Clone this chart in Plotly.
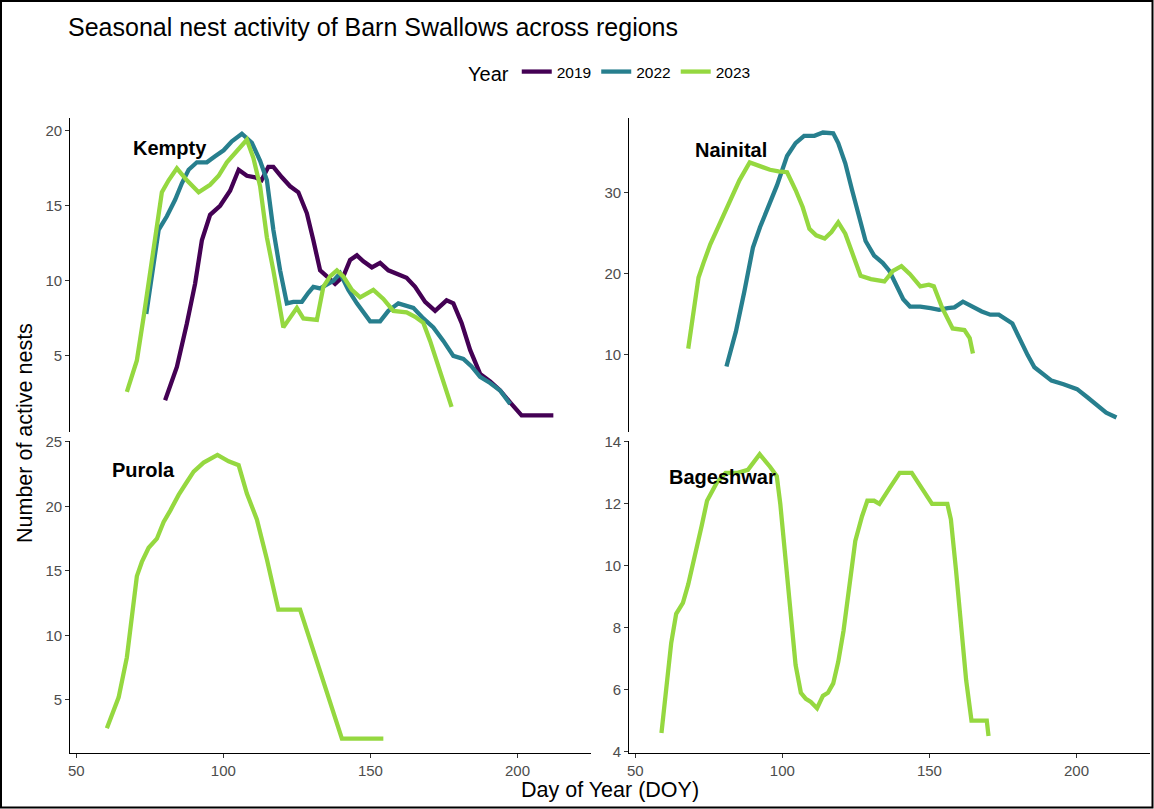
import plotly.graph_objects as go

# ---------------- data ----------------
years = ["2019", "2022", "2023"]
regions = ["Kempty", "Nainital", "Purola", "Bageshwar"]

kempty_2019_doy = [80.2, 84.2, 87.6, 90.4, 92.7, 95.5, 98.9, 102.3, 105.2, 108.0,
                   110.8, 113.0, 115.3, 117.0, 119.9, 122.7, 125.5, 128.4, 130.6, 132.9,
                   135.2, 138.0, 140.8, 143.1, 145.4, 147.6, 150.5, 153.3, 156.1, 158.9,
                   162.3, 165.2, 168.6, 172.0, 175.9, 178.2, 181.0, 183.9, 187.3, 190.7,
                   194.1, 197.5, 201.4, 212.2]
kempty_2019_n = [2.04, 4.27, 7.16, 9.82, 12.7, 14.4, 15.0, 16.0, 17.4, 17.0,
                 16.9, 16.7, 17.6, 17.6, 16.9, 16.3, 15.9, 14.5, 12.7, 10.7,
                 10.3, 9.8, 10.3, 11.4, 11.7, 11.3, 10.9, 11.2, 10.7, 10.5,
                 10.2, 9.6, 8.6, 8.0, 8.7, 8.5, 7.2, 5.4, 3.8, 3.3,
                 2.7, 1.9, 1.04, 1.04]

kempty_2022_doy = [73.8, 76.3, 78.0, 80.8, 83.6, 85.9, 88.2, 91.0, 94.4, 97.2,
                   100.1, 102.9, 106.3, 109.7, 112.5, 114.8, 117.0, 119.3, 121.6, 123.8,
                   126.7, 128.9, 130.6, 132.9, 137.4, 139.7, 142.5, 145.4, 148.2, 149.9,
                   153.3, 156.1, 159.5, 162.3, 164.6, 168.0, 171.4, 174.8, 178.2, 181.6,
                   184.4, 187.3, 190.7, 194.1, 197.5]
kempty_2022_n = [7.8, 11.4, 13.4, 14.3, 15.4, 16.5, 17.4, 17.9, 17.9, 18.3,
                 18.7, 19.3, 19.8, 19.2, 18.0, 16.7, 13.4, 10.7, 8.5, 8.6,
                 8.6, 9.2, 9.6, 9.5, 10.0, 10.5, 9.4, 8.5, 7.8, 7.3,
                 7.3, 8.0, 8.5, 8.3, 8.2, 7.5, 6.9, 6.0, 5.0, 4.8,
                 4.3, 3.6, 3.2, 2.7, 1.8]

kempty_2023_doy = [67.2, 70.6, 72.9, 75.1, 77.4, 79.1, 81.4, 84.2, 87.6, 91.6,
                   95.5, 98.4, 101.2, 104.6, 108.0, 110.2, 112.5, 114.8, 117.0, 120.4,
                   122.7, 125.0, 127.2, 131.8, 134.0, 136.3, 138.6, 140.8, 143.7, 146.5,
                   151.0, 154.4, 157.8, 162.3, 165.2, 168.0, 170.3, 172.5, 175.4, 177.6]
kempty_2023_n = [2.6, 4.7, 7.6, 10.7, 13.8, 15.9, 16.7, 17.5, 16.7, 15.9,
                 16.4, 17.0, 17.9, 18.7, 19.4, 18.2, 16.3, 12.9, 10.7, 6.9,
                 7.6, 8.2, 7.5, 7.4, 9.6, 10.3, 10.7, 10.3, 9.4, 8.9,
                 9.4, 8.8, 8.0, 7.9, 7.6, 7.2, 6.0, 4.7, 2.9, 1.6]

nainital_2022_doy = [81.0, 84.2, 87.1, 90.0, 92.4, 95.3, 98.2, 101.6, 104.5, 107.4,
                     110.9, 113.8, 117.3, 119.0, 121.4, 123.7, 126.0, 128.3, 131.2, 134.1,
                     136.4, 138.8, 141.1, 143.4, 146.9, 150.4, 153.3, 156.2, 158.5, 161.4,
                     164.3, 167.8, 170.7, 173.6, 178.2, 181.1, 183.4, 185.7, 188.6, 191.5,
                     195.6, 200.2, 203.7, 207.2, 210.1, 213.6]
nainital_2022_n = [8.5, 12.8, 17.8, 23.2, 25.7, 28.2, 30.9, 34.5, 36.1, 37.0,
                   37.0, 37.4, 37.3, 36.1, 33.6, 30.3, 27.0, 24.0, 22.2, 21.3,
                   20.3, 18.6, 16.8, 15.9, 15.9, 15.7, 15.5, 15.7, 15.8, 16.5,
                   15.9, 15.3, 14.9, 14.9, 13.8, 11.5, 9.9, 8.4, 7.6, 6.75,
                   6.3, 5.7, 4.7, 3.6, 2.8, 2.2]

nainital_2023_doy = [68.0, 69.7, 71.5, 73.2, 75.5, 78.4, 81.9, 85.4, 88.9, 92.4,
                     95.8, 98.7, 101.6, 104.5, 106.9, 109.2, 111.5, 114.4, 116.7, 119.0,
                     121.4, 124.3, 126.6, 130.1, 134.7, 137.6, 140.5, 143.4, 146.9, 149.8,
                     151.5, 154.4, 157.9, 161.9, 163.7, 164.8]
nainital_2023_n = [10.7, 15.3, 19.5, 21.3, 23.6, 25.9, 28.6, 31.5, 33.7, 33.2,
                   32.8, 32.6, 32.5, 30.3, 28.2, 25.5, 24.7, 24.3, 25.1, 26.3,
                   24.9, 22.0, 19.7, 19.3, 19.0, 20.3, 20.9, 19.9, 18.4, 18.6,
                   18.4, 15.7, 13.2, 13.0, 12.0, 10.1]

purola_2023_doy = [60.4, 64.4, 67.2, 68.9, 70.6, 72.3, 74.6, 77.4, 79.7, 82.0,
                   84.8, 87.6, 89.9, 93.3, 98.0, 101.8, 105.2, 108.0, 111.4, 114.8,
                   118.7, 126.1, 132.9, 140.3, 154.4]
purola_2023_n = [2.8, 5.2, 8.3, 11.5, 14.6, 15.7, 16.8, 17.5, 18.8, 19.7,
                 20.9, 21.9, 22.7, 23.4, 24.0, 23.5, 23.2, 21.0, 19.0, 15.9,
                 12.0, 12.0, 7.3, 2.0, 2.0]

bageshwar_2023_doy = [58.9, 60.4, 62.2, 63.9, 66.2, 68.0, 70.3, 72.6, 74.4, 77.8,
                      80.7, 84.8, 88.3, 92.3, 95.8, 98.1, 99.3, 101.0, 102.8, 104.5,
                      106.3, 108.0, 109.7, 111.8, 113.8, 115.5, 117.3, 119.0, 120.8, 122.5,
                      124.8, 127.1, 128.9, 131.2, 133.0, 136.4, 139.9, 144.0, 147.4, 150.9,
                      156.1, 157.3, 159.0, 160.8, 162.5, 164.3, 169.5, 170.1]
bageshwar_2023_n = [4.6, 6.0, 7.5, 8.45, 8.8, 9.4, 10.3, 11.3, 12.1, 12.7,
                    13.0, 13.0, 13.1, 13.6, 13.2, 12.9, 12.0, 10.3, 8.6, 6.8,
                    5.9, 5.7, 5.6, 5.4, 5.8, 5.9, 6.2, 6.9, 7.9, 9.2,
                    10.8, 11.6, 12.1, 12.1, 12.0, 12.5, 13.0, 13.0, 12.5, 12.0,
                    12.0, 11.5, 9.9, 7.9, 6.3, 5.0, 5.0, 4.5]

x_ticks = [50, 100, 150, 200]
y_ticks = {
    "Kempty": [5, 10, 15, 20],
    "Nainital": [10, 20, 30],
    "Purola": [5, 10, 15, 20, 25],
    "Bageshwar": [4, 6, 8, 10, 12, 14],
}

# ---------------- styling / layout ----------------
W, H = 1154, 809
FONT = "Liberation Sans, Arial, Helvetica, sans-serif"
COLORS = {"2019": "#440154", "2022": "#277F8E", "2023": "#95D840"}


def px(x):
    return x / W


def py(y):
    return 1 - y / H


series = [
    ("Kempty", "2019", kempty_2019_doy, kempty_2019_n),
    ("Kempty", "2022", kempty_2022_doy, kempty_2022_n),
    ("Kempty", "2023", kempty_2023_doy, kempty_2023_n),
    ("Nainital", "2022", nainital_2022_doy, nainital_2022_n),
    ("Nainital", "2023", nainital_2023_doy, nainital_2023_n),
    ("Purola", "2023", purola_2023_doy, purola_2023_n),
    ("Bageshwar", "2023", bageshwar_2023_doy, bageshwar_2023_n),
]
axis_of = {"Kempty": ("x", "y"), "Nainital": ("x2", "y2"),
           "Purola": ("x3", "y3"), "Bageshwar": ("x4", "y4")}

fig = go.Figure()
shown = set()
for region, year, xs, ys in series:
    xa, ya = axis_of[region]
    fig.add_trace(go.Scatter(
        x=xs, y=ys, mode="lines", name=year, legendgroup=year,
        showlegend=year not in shown,
        line=dict(color=COLORS[year], width=4.3),
        xaxis=xa, yaxis=ya, hoverinfo="x+y+name"))
    shown.add(year)

X_RANGE = [48.0, 225.0]
left_dom = [px(70.4), px(591.0)]
right_dom = [px(629.4), px(1150.0)]
top_dom = [py(431.7), py(118.3)]
bot_dom = [py(752.8), py(440.7)]

y_ranges = {
    "Kempty": [-0.05, 20.83],
    "Nainital": [0.44, 39.16],
    "Purola": [0.9, 25.1],
    "Bageshwar": [3.96, 14.04],
}

tickfont = dict(family=FONT, size=15, color="#4D4D4D")


def xaxis(dom, anchor, show):
    d = dict(domain=dom, anchor=anchor, range=X_RANGE, showgrid=False, zeroline=False,
             fixedrange=True, automargin=False)
    if show:
        d.update(showline=True, linecolor="black", linewidth=1.4, ticks="outside",
                 ticklen=4, tickwidth=1.2, tickcolor="#333333", tickvals=x_ticks,
                 tickfont=tickfont)
    else:
        d.update(showline=False, showticklabels=False, ticks="")
    return d


def yaxis(dom, anchor, region):
    return dict(domain=dom, anchor=anchor, range=y_ranges[region], showgrid=False,
                zeroline=False, showline=True, linecolor="black", linewidth=1.4,
                ticks="outside", ticklen=4, tickwidth=1.2, tickcolor="#333333",
                tickvals=y_ticks[region], tickfont=tickfont, fixedrange=True,
                automargin=False)


annotations = [
    dict(text="Seasonal nest activity of Barn Swallows across regions", x=px(66), y=py(27),
         xref="paper", yref="paper", xanchor="left", yanchor="middle", showarrow=False,
         font=dict(family=FONT, size=25, color="black")),
    dict(text="Day of Year (DOY)", x=px(610), y=py(790), xref="paper", yref="paper",
         xanchor="center", yanchor="middle", showarrow=False,
         font=dict(family=FONT, size=21.5, color="black")),
    dict(text="Number of active nests", x=px(25), y=py(433), xref="paper", yref="paper",
         xanchor="center", yanchor="middle", textangle=-90, showarrow=False,
         font=dict(family=FONT, size=21.5, color="black")),
]

label_pos = {
    "Kempty": (82.0, 18.85),
    "Nainital": (82.5, 35.3),
    "Purola": (72.9, 22.8),
    "Bageshwar": (79.8, 12.87),
}
for region in regions:
    xa, ya = axis_of[region]
    lx, ly = label_pos[region]
    annotations.append(dict(
        text="<b>%s</b>" % region, x=lx, y=ly, xref=xa, yref=ya,
        xanchor="center", yanchor="middle", showarrow=False,
        font=dict(family=FONT, size=20, color="black")))

fig.update_layout(
    template="none",
    width=W, height=H, autosize=False,
    margin=dict(l=0, r=0, t=0, b=0, pad=0, autoexpand=False),
    paper_bgcolor="white", plot_bgcolor="white",
    font=dict(family=FONT, color="black"),
    xaxis=xaxis(left_dom, "y", False),
    yaxis=yaxis(top_dom, "x", "Kempty"),
    xaxis2=xaxis(right_dom, "y2", False),
    yaxis2=yaxis(top_dom, "x2", "Nainital"),
    xaxis3=xaxis(left_dom, "y3", True),
    yaxis3=yaxis(bot_dom, "x3", "Purola"),
    xaxis4=xaxis(right_dom, "y4", True),
    yaxis4=yaxis(bot_dom, "x4", "Bageshwar"),
    showlegend=True,
    legend=dict(orientation="h", x=px(611), xanchor="center", y=py(73), yanchor="middle",
                title=dict(text="Year", font=dict(family=FONT, size=20, color="black"),
                           side="left"),
                font=dict(family=FONT, size=15.5, color="black"),
                bgcolor="rgba(0,0,0,0)", traceorder="normal"),
    annotations=annotations,
    shapes=[dict(type="rect", xref="paper", yref="paper", x0=px(1), x1=px(1152.5),
                 y0=py(807.5), y1=py(1), line=dict(color="black", width=2),
                 fillcolor="rgba(0,0,0,0)", layer="above")],
)

fig.write_html("out.html")
